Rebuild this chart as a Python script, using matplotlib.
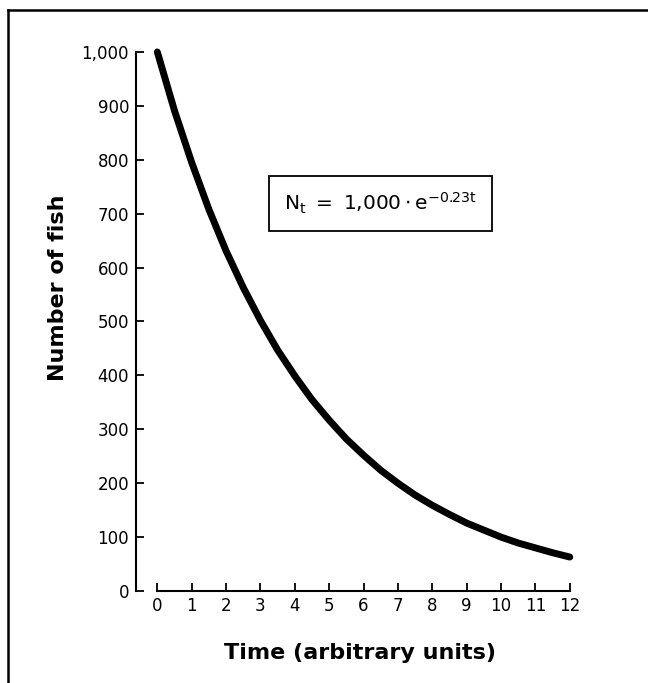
import matplotlib.pyplot as plt
from matplotlib.lines import Line2D

# values at half-unit steps
time = [0, 0.5, 1, 1.5, 2, 2.5, 3, 3.5, 4, 4.5, 5, 5.5, 6, 6.5, 7, 7.5, 8, 8.5, 9, 9.5, 10, 10.5, 11, 11.5, 12]
fish = [1000, 891, 795, 708, 631, 563, 502, 447, 399, 355, 317, 282, 252, 224, 200, 178, 159, 142, 126, 113, 100, 89, 80, 71, 63]

x_ticks = list(range(0, 13))
y_ticks = list(range(0, 1001, 100))
y_labels = ["0", "100", "200", "300", "400", "500", "600", "700", "800", "900", "1,000"]

plt.rcParams["font.family"] = ["DejaVu Sans"]

fig = plt.figure(figsize=(6.48, 6.83), dpi=100)
ax = fig.add_axes([0.2099, 0.1347, 0.680, 0.805])

ax.plot(time, fish, color="black", linewidth=5.0, solid_capstyle="round", clip_on=False)

ax.set_xlim(-0.62, 12.2)
ax.set_ylim(0, 1020)

ax.spines["top"].set_visible(False)
ax.spines["right"].set_visible(False)
ax.spines["left"].set_bounds(0, 1000)
ax.spines["bottom"].set_bounds(0, 12)
for side in ["left", "bottom"]:
    ax.spines[side].set_linewidth(1.5)

ax.set_xticks(x_ticks)
ax.set_yticks(y_ticks)
ax.set_yticklabels(y_labels)
ax.tick_params(axis="both", direction="in", length=6, width=1.3, labelsize=12)
ax.tick_params(axis="y", pad=5)
ax.tick_params(axis="x", pad=4)

ax.set_xlabel("Time (arbitrary units)", fontsize=16, fontweight="bold")
ax.set_ylabel("Number of fish", fontsize=16, fontweight="bold")
ax.xaxis.set_label_coords(0.508, -0.095)
ax.yaxis.set_label_coords(-0.154, 0.551)

ax.text(6.5, 719, r"$\mathregular{N_t\ =\ 1{,}000\cdot e^{-0.23t}}$", fontsize=14.5,
        ha="center", va="center",
        bbox=dict(boxstyle="square,pad=0.75", facecolor="white", edgecolor="black", linewidth=1.3))

# outer frame (top and left only)
fig.add_artist(Line2D([0.0123, 1.0], [0.9854, 0.9854], color="black", linewidth=1.8, transform=fig.transFigure))
fig.add_artist(Line2D([0.0123, 0.0123], [0.0, 0.9854], color="black", linewidth=1.8, transform=fig.transFigure))

fig.savefig("out.png", dpi=100)
